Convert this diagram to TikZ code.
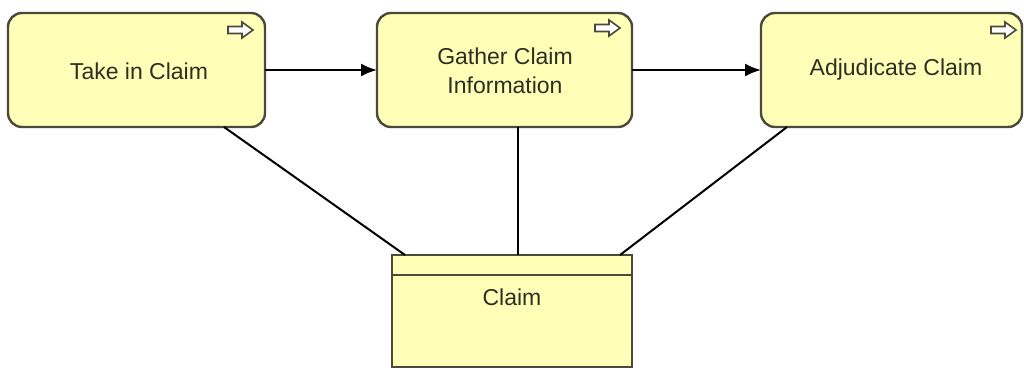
\documentclass[tikz,border=0pt]{standalone}
\usepackage{fontspec}
\setmainfont{Liberation Sans}
\usetikzlibrary{arrows.meta}
\definecolor{boxfill}{HTML}{FFFFB8}
\definecolor{boxline}{HTML}{4A4A3A}
\definecolor{txt}{HTML}{2E2E22}
\tikzset{
  proc/.style={draw=boxline, line width=2.4pt, fill=boxfill, rounded corners=14pt},
  lbl/.style={text=txt, font=\fontsize{23}{29}\selectfont, align=center},
  flow/.style={draw=black, line width=2pt, -{Latex[length=16pt,width=13pt]}},
  assoc/.style={draw=black, line width=2pt},
  icon/.style={draw=boxline, line width=1.6pt, fill=white}
}
\newcommand{\procicon}[2]{%
  \draw[icon] (#1-17,#2-3.5) -- (#1-3,#2-3.5) -- (#1-3,#2-8) -- (#1+8,#2) -- (#1-3,#2+8) -- (#1-3,#2+3.5) -- (#1-17,#2+3.5) -- cycle;}
\begin{document}
\begin{tikzpicture}[x=1pt,y=-1pt]
\useasboundingbox[fill=white] (0,0) rectangle (1024,370);
% process boxes
\draw[proc] (8,13) rectangle (265,127);
\node[lbl] (p1) at (139,71) {Take in Claim};
\coordinate (p1e) at (265,70);
\draw[proc] (377,13) rectangle (632,127);
\node[lbl] (p2) at (505,71) {Gather Claim\\Information};
\coordinate (p2w) at (377,70);
\coordinate (p2e) at (632,70);
\draw[proc] (761,13) rectangle (1022,127);
\node[lbl] (p3) at (896,70) {Adjudicate Claim};
\coordinate (p3w) at (761,70);
% icons
\procicon{245}{30}
\procicon{612}{28}
\procicon{1008}{30}
% business object
\draw[draw=boxline, line width=2.4pt, fill=boxfill] (392,255) rectangle (632,367);
\draw[draw=boxline, line width=2.4pt] (392,275) -- (632,275);
\node[lbl] (bo) at (512,297) {Claim};
% flows
\draw[flow] (p1e) -- (p2w);
\draw[flow] (p2e) -- (p3w);
% associations
\coordinate (a1) at (224,127);
\coordinate (a1b) at (405,255);
\coordinate (a2) at (518,127);
\coordinate (a2b) at (518,255);
\coordinate (a3) at (787,127);
\coordinate (a3b) at (620,255);
\draw[assoc] (a1) -- (a1b);
\draw[assoc] (a2) -- (a2b);
\draw[assoc] (a3) -- (a3b);
\end{tikzpicture}
\end{document}
